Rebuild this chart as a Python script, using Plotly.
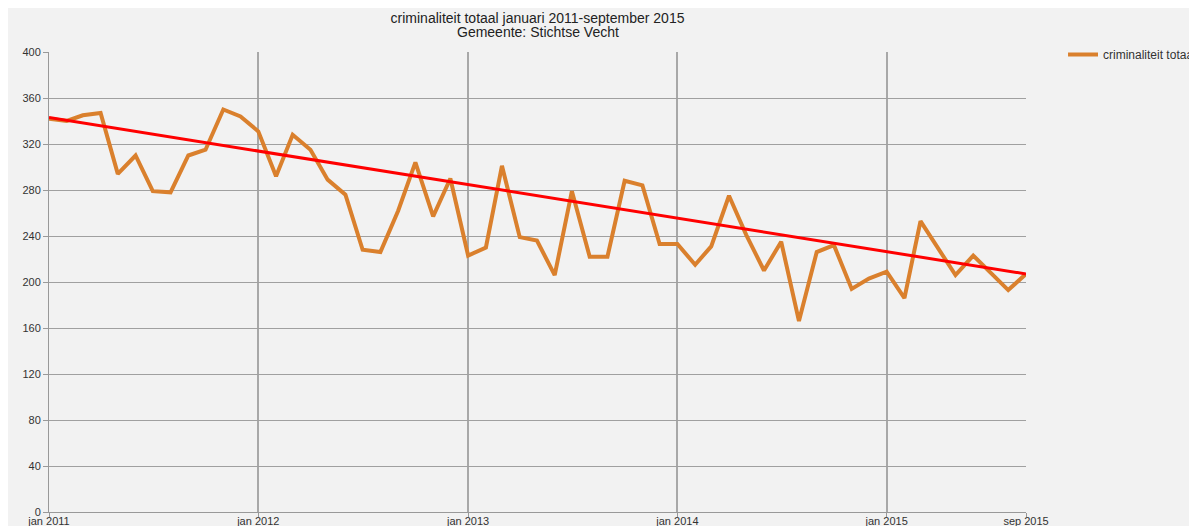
import plotly.graph_objects as go
import pandas as pd

months = pd.date_range("2011-01-01", "2015-09-01", freq="MS")
criminaliteit = [342, 340, 345, 347, 294, 310, 279, 278, 310, 315,
                 350, 344, 331, 292, 328, 315, 289, 276, 228, 226,
                 262, 304, 257, 290, 223, 230, 301, 239, 236, 206,
                 279, 222, 222, 288, 284, 233, 233, 215, 231, 275,
                 241, 210, 235, 166, 226, 232, 194, 203, 209, 186,
                 253, 229, 206, 223, 208, 193, 207]
trend_dates = ["2011-01-01", "2015-09-01"]
trend_values = [343, 207]
tick_dates = ["2011-01-01", "2012-01-01", "2013-01-01", "2014-01-01", "2015-01-01", "2015-09-01"]
tick_labels = ["jan 2011", "jan 2012", "jan 2013", "jan 2014", "jan 2015", "sep 2015"]
y_ticks = list(range(0, 401, 40))

# figure is larger than the window; the page clips it (body offset 8px)
W, H = 1260, 545
L, T = 41, 44
plot_w, plot_h = 977, 460
R = W - L - plot_w
B = H - T - plot_h

fig = go.Figure()
fig.add_trace(go.Scatter(x=months, y=criminaliteit, mode="lines", name="criminaliteit totaal",
                         line=dict(color="rgb(218,128,45)", width=4)))
fig.add_trace(go.Scatter(x=trend_dates, y=trend_values, mode="lines", showlegend=False,
                         line=dict(color="#ff0000", width=3)))

fig.update_layout(
    width=W, height=H,
    margin=dict(l=L, r=R, t=T, b=B, autoexpand=False),
    paper_bgcolor="#f2f2f2", plot_bgcolor="#f2f2f2",
    font=dict(family="Liberation Sans, Arial, sans-serif", size=11, color="#333"),
    title=dict(text="criminaliteit totaal januari 2011-september 2015",
               x=0.5, xref="paper", xanchor="center",
               y=1 - 10 / H, yref="container", yanchor="middle",
               font=dict(size=14, color="#222")),
    annotations=[dict(text="Gemeente: Stichtse Vecht", x=0.5, xref="paper", xanchor="center",
                      y=1 + (T - 24) / plot_h, yref="paper", yanchor="middle", showarrow=False,
                      font=dict(size=14, color="#222"))],
    legend=dict(x=1.0379, y=1 + (T - 32) / plot_h, xanchor="left", yanchor="top",
                bgcolor="rgba(0,0,0,0)", font=dict(size=12, color="#333")),
    showlegend=True,
)
fig.update_xaxes(range=["2011-01-01", "2015-09-01"], tickvals=tick_dates, ticktext=tick_labels,
                 automargin=False, showgrid=True, gridcolor="#a8a8a8", gridwidth=1.5, zeroline=False,
                 ticks="outside", ticklen=4, tickcolor="#999", showline=True, linecolor="#999",
                 ticklabelstandoff=-5, tickfont=dict(size=11, color="#333"))
fig.update_yaxes(range=[0, 400], tickvals=y_ticks, automargin=False, showgrid=True,
                 gridcolor="#a0a0a0", gridwidth=1, zeroline=False, ticks="outside", ticklen=5,
                 tickcolor="#999", showline=True, linecolor="#999",
                 tickfont=dict(size=11, color="#333"))

fig.write_html("out.html")
